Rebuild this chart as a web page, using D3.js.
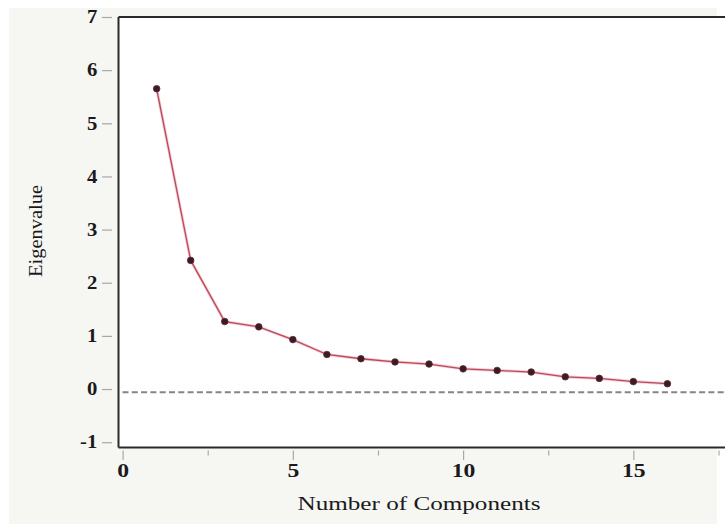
<!DOCTYPE html>
<html>
<head>
<meta charset="utf-8">
<script src="https://cdn.jsdelivr.net/npm/d3@7"></script>
<style>
  body { margin: 0; background: #ffffff; }
  svg { display: block; }
</style>
</head>
<body>
<div class="container"></div>
<script>
// scree plot data
const components = [1, 2, 3, 4, 5, 6, 7, 8, 9, 10, 11, 12, 13, 14, 15, 16];
const eigenvalues = [5.65, 2.42, 1.27, 1.17, 0.93, 0.65, 0.57, 0.51, 0.47, 0.38, 0.35, 0.32, 0.23, 0.20, 0.14, 0.10];
const yTicks = [-1, 0, 1, 2, 3, 4, 5, 6, 7];
const xTicks = [0, 2.5, 5, 7.5, 10, 12.5, 15, 17.5];
const xLabels = [0, 5, 10, 15];
const refLine = -0.06;

const width = 725;
const height = 524;
const margin = { top: 17, right: 0, bottom: 76, left: 118.5 };
const serif = "'Liberation Serif', 'DejaVu Serif', serif";

const svg = d3.select(".container")
  .append("svg")
  .attr("width", width)
  .attr("height", height);

// outer page background
svg.append("rect")
  .attr("x", 9).attr("y", 8)
  .attr("width", width - 17).attr("height", height - 8)
  .attr("fill", "#f6f6f3");

// scales (x=0 sits a few px right of the frame)
const x = d3.scaleLinear()
  .domain([-0.12, 17.75])
  .range([margin.left, width + 2]);

const y = d3.scaleLinear()
  .domain([-1.1, 7])
  .range([height - margin.bottom - 0.5, margin.top]);

// plot area
svg.append("rect")
  .attr("x", x(-0.12)).attr("y", y(7))
  .attr("width", width - x(-0.12)).attr("height", y(-1.1) - y(7))
  .attr("fill", "#ffffff");

// frame: top, left, bottom
const frame = svg.append("g")
  .attr("stroke", "#2a2a2a")
  .attr("stroke-width", 2);
frame.append("line")
  .attr("x1", x(-0.12)).attr("x2", width)
  .attr("y1", y(7)).attr("y2", y(7));
frame.append("line")
  .attr("x1", x(-0.12)).attr("x2", x(-0.12))
  .attr("y1", y(7)).attr("y2", y(-1.1));
frame.append("line")
  .attr("x1", x(-0.12)).attr("x2", width)
  .attr("y1", y(-1.1)).attr("y2", y(-1.1));

// y axis
const yAxis = svg.append("g")
  .attr("transform", "translate(112,0)")
  .call(d3.axisLeft(y).tickValues(yTicks).tickSize(10).tickPadding(5).tickFormat((d) => String(d)));
yAxis.select(".domain").remove();
yAxis.selectAll(".tick line").attr("stroke", "#a8a8a8").attr("stroke-width", 1.2);
yAxis.selectAll(".tick text")
  .attr("fill", "#1a1a1a")
  .attr("font-family", serif)
  .attr("font-weight", "bold")
  .attr("font-size", 18)
  .attr("x", -12.8)
  .attr("transform", "scale(1.15,1)");

// x axis
const xAxis = svg.append("g")
  .attr("transform", `translate(0,${y(-1.1) + 3})`)
  .call(d3.axisBottom(x).tickValues(xTicks).tickSize(9.5).tickPadding(4)
    .tickFormat((d) => xLabels.includes(d) ? d : ""));
xAxis.select(".domain").remove();
xAxis.selectAll(".tick line")
  .attr("stroke", "#a8a8a8")
  .attr("stroke-width", 1.2)
  .attr("y2", (d) => xLabels.includes(d) ? 9.5 : 5);
xAxis.selectAll(".tick text")
  .attr("fill", "#1a1a1a")
  .attr("font-family", serif)
  .attr("font-weight", "bold")
  .attr("font-size", 18.5)
  .attr("transform", "scale(1.28,1)");

// dashed reference line
svg.append("line")
  .attr("x1", x(-0.12) + 4).attr("x2", width)
  .attr("y1", y(refLine)).attr("y2", y(refLine))
  .attr("stroke", "#858585")
  .attr("stroke-width", 2)
  .attr("stroke-dasharray", "6,3.3");

// scree line
const points = components.map((c, i) => ({ c: c, v: eigenvalues[i] }));
const line = d3.line()
  .x((d) => x(d.c))
  .y((d) => y(d.v));

svg.append("path")
  .datum(points)
  .attr("d", line)
  .attr("fill", "none")
  .attr("stroke", "#f2a9b4")
  .attr("stroke-width", 3)
  .attr("opacity", 0.6);
svg.append("path")
  .datum(points)
  .attr("d", line)
  .attr("fill", "none")
  .attr("stroke", "#b84a5a")
  .attr("stroke-width", 1.3);

svg.append("g")
  .selectAll("circle")
  .data(points)
  .enter()
  .append("circle")
  .attr("cx", (d) => x(d.c))
  .attr("cy", (d) => y(d.v))
  .attr("r", 3.3)
  .attr("fill", "#3b1c26")
  .attr("stroke", "#5a2a36")
  .attr("stroke-width", 0.8);

// axis titles
svg.append("text")
  .attr("x", 419)
  .attr("y", 510)
  .attr("text-anchor", "middle")
  .attr("font-family", serif)
  .attr("font-size", 19.5)
  .attr("fill", "#1a1a1a")
  .attr("textLength", 243)
  .attr("lengthAdjust", "spacingAndGlyphs")
  .text("Number of Components");

svg.append("text")
  .attr("transform", "translate(42,231) rotate(-90)")
  .attr("text-anchor", "middle")
  .attr("font-family", serif)
  .attr("font-size", 18.5)
  .attr("fill", "#1a1a1a")
  .attr("textLength", 92)
  .attr("lengthAdjust", "spacingAndGlyphs")
  .text("Eigenvalue");
</script>
</body>
</html>
